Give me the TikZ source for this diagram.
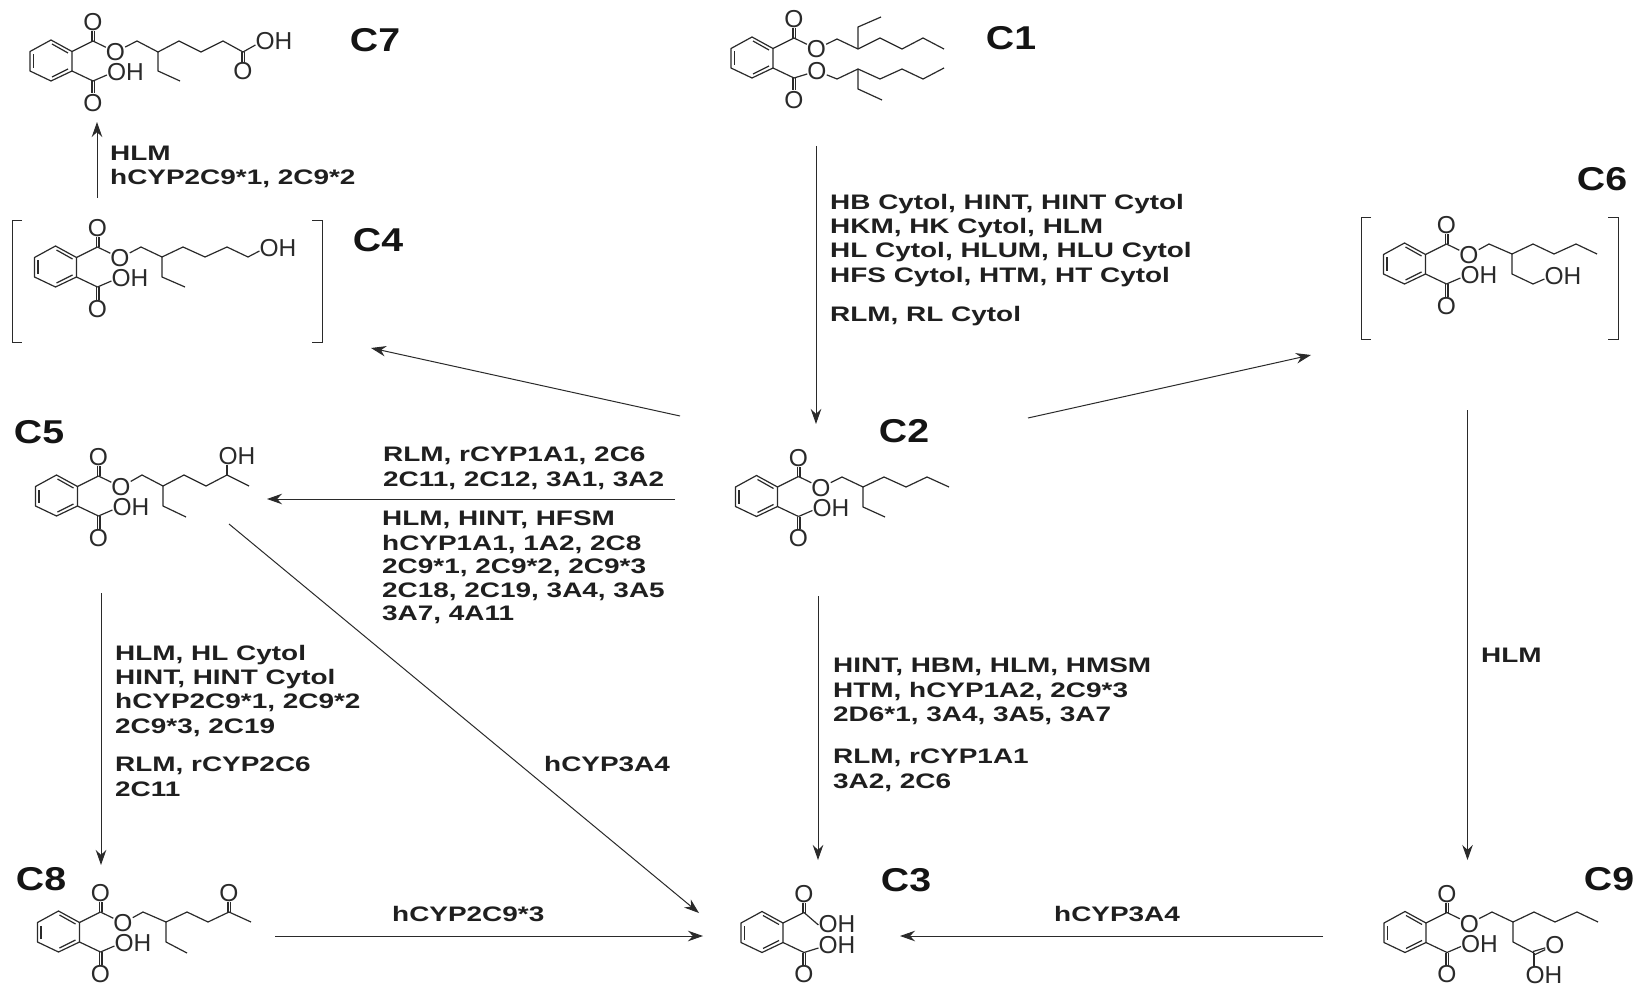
\documentclass[tikz,border=0pt]{standalone}
\usepackage{fontspec}
\usetikzlibrary{arrows.meta}
\setmainfont{Liberation Sans}
\newfontfamily\labfam[FakeStretch=1.33]{Liberation Sans}
\newfontfamily\tagfam[FakeStretch=1.19]{Liberation Sans}
\definecolor{ink}{HTML}{2A2A2A}
\tikzset{
  bond/.style={draw=ink,line width=1.2pt,line join=round},
  arrowline/.style={draw=ink,line width=1pt,-{Stealth[length=15pt,width=10.5pt]}},
  atom/.style={inner sep=0pt,text=ink,font=\fontsize{24.5}{24.5}\selectfont,text height=17.5pt,text depth=0pt},
  lab/.style={anchor=north west,inner sep=0pt,align=left,text=black!88,font={\fontsize{21}{24.2}\labfam\bfseries\selectfont}},
  tag/.style={inner sep=0pt,text=black!92,font={\fontsize{33}{33}\tagfam\bfseries\selectfont}},
  brk/.style={draw=ink,line width=0.9pt}
}
% benzene ring, centred on the local origin
\newcommand\phring{%
  \draw[bond] (0,-21) -- (21,-9.5) -- (21,10) -- (0,20) -- (-21,10) -- (-21,-9.5) -- cycle;
  \draw[bond] (1,-17) -- (17,-8);
  \draw[bond] (1,16) -- (17,8);
  \draw[bond] (-17.5,7) -- (-17.5,-6.5);
  \draw[bond] (21,-9.5) -- (42,-20);
  \draw[bond] (21,10) -- (42,20);
}
% upper and lower C=O
\newcommand\upCO{%
  \node[atom] (ou) at (42,-39) {O};
  \draw[bond] (41,-20) -- (41,-30);
  \draw[bond] (43.5,-20) -- (43.5,-30);
}
\newcommand\loCO{%
  \node[atom] (ol) at (42,41.5) {O};
  \draw[bond] (41,20) -- (41,32.5);
  \draw[bond] (43.5,20) -- (43.5,32.5);
}
% ester oxygen on the upper carbonyl
\newcommand\estO{%
  \node[atom] (oe) at (64.5,-9) {O};
  \draw[bond] (42,-20) -- (oe);
}
% acid OH on the lower carbonyl
\newcommand\loOH{%
  \node[atom] (oh) at (74.5,11) {OH};
  \draw[bond] (42,20) -- ([yshift=-3pt]oh.west);
}
\begin{document}
\begin{tikzpicture}[x=1pt,y=-1pt]
\useasboundingbox (0,0) rectangle (1640,984);
\fill[white] (0,0) rectangle (1640,984);

% C7
\begin{scope}[shift={(51,61)},name prefix=C7-]\phring\upCO\loCO\estO\loOH\end{scope}
\node[atom] (C7-oh2) at (274,41) {OH};
\node[atom] (C7-o2) at (243,71) {O};
\draw[bond] (C7-oe) -- (137,41) -- (158,52) -- (179,41) -- (201,52) -- (223,41) -- (243,52) -- ([yshift=-4pt]C7-oh2.west);
\draw[bond] (242,52) -- (242,62);
\draw[bond] (244.5,52) -- (244.5,62);
\draw[bond] (158,52) -- (158,71) -- (180,81);
\node[tag] (tagC7) at (375,40) {C7};

% C4
\begin{scope}[shift={(55.5,267)},name prefix=C4-]\phring\upCO\loCO\estO\loOH\end{scope}
\node[atom] (C4-oh2) at (278,248) {OH};
\draw[bond] (C4-oe) -- (141,247) -- (162,257) -- (183,247) -- (205,257) -- (227,247) -- (248,257) -- ([yshift=-3pt]C4-oh2.west);
\draw[bond] (162,257) -- (162,277) -- (185,287);
\draw[brk] (22,220) -- (12,220) -- (12,342) -- (22,342);
\draw[brk] (312,220) -- (322,220) -- (322,342) -- (312,342);
\node[tag] (tagC4) at (378,240) {C4};

% C1
\begin{scope}[shift={(752,58)},name prefix=C1-]\phring\upCO\loCO\estO
  \node[atom] (oe2) at (65,13) {O};
  \draw[bond] (42,20) -- (oe2);
\end{scope}
\draw[bond] (C1-oe) -- (837,39) -- (858,49) -- (880,38) -- (902,49) -- (923,38) -- (944,49);
\draw[bond] (858,49) -- (858,27) -- (881,17);
\draw[bond] (C1-oe2) -- (837,79) -- (858,69) -- (880,79) -- (902,69) -- (923,79) -- (944,68);
\draw[bond] (858,69) -- (858,89) -- (882,100);
\node[tag] (tagC1) at (1011,38) {C1};

% C6
\begin{scope}[shift={(1404.5,264)},name prefix=C6-]\phring\upCO\loCO\estO\loOH\end{scope}
\node[atom] (C6-oh2) at (1563,276) {OH};
\draw[bond] (C6-oe) -- (1489,244) -- (1512,254) -- (1533,244) -- (1554,254) -- (1576,244) -- (1597,254);
\draw[bond] (1512,254) -- (1512,274) -- (1533,284) -- ([yshift=-3pt]C6-oh2.west);
\draw[brk] (1371,217) -- (1361,217) -- (1361,339) -- (1371,339);
\draw[brk] (1608,217) -- (1618,217) -- (1618,339) -- (1608,339);
\node[tag] (tagC6) at (1602,179) {C6};

% C5
\begin{scope}[shift={(56.5,496)},name prefix=C5-]\phring\upCO\loCO\estO\loOH\end{scope}
\node[atom] (C5-oh2) at (237,456) {OH};
\draw[bond] (C5-oe) -- (142,475) -- (163,486) -- (184,475) -- (206,486) -- (227,475) -- (249,486);
\draw[bond] (227,475) -- (227,465);
\draw[bond] (163,486) -- (163,506) -- (186,517);
\node[tag] (tagC5) at (39,432) {C5};

% C2
\begin{scope}[shift={(756.5,496.5)},name prefix=C2-]\phring\upCO\loCO\estO\loOH\end{scope}
\draw[bond] (C2-oe) -- (842,477) -- (863,487) -- (884,477) -- (906,487) -- (927,477) -- (949,487);
\draw[bond] (863,487) -- (863,507) -- (885,517);
\node[tag] (tagC2) at (904,431) {C2};

% C8
\begin{scope}[shift={(58.5,932)},name prefix=C8-]\phring\upCO\loCO\estO\loOH\end{scope}
\node[atom] (C8-o2) at (229,893) {O};
\draw[bond] (C8-oe) -- (143,912) -- (166,922) -- (187,912) -- (208,922) -- (229,912) -- (251,922);
\draw[bond] (228,912) -- (228,902);
\draw[bond] (230.5,912) -- (230.5,902);
\draw[bond] (166,922) -- (166,942) -- (187,953);
\node[tag] (tagC8) at (41,879) {C8};

% C3
\begin{scope}[shift={(762,932.5)},name prefix=C3-]\phring\upCO\loCO
  \node[atom] (oh1) at (75,-8.5) {OH};
  \node[atom] (oh2) at (75,12.5) {OH};
  \draw[bond] (42,-20) -- ([yshift=-1pt]oh1.west);
  \draw[bond] (42,20) -- ([yshift=-3pt]oh2.west);
\end{scope}
\node[tag] (tagC3) at (906,880) {C3};

% C9
\begin{scope}[shift={(1405,932.5)},name prefix=C9-]\phring\upCO\loCO\estO\loOH\end{scope}
\node[atom] (C9-o2) at (1555,945) {O};
\node[atom] (C9-oh2) at (1544,975) {OH};
\draw[bond] (C9-oe) -- (1492,912) -- (1513,922) -- (1534,912) -- (1555,922) -- (1577,912) -- (1598,922);
\draw[bond] (1513,922) -- (1513,942) -- (1534,953);
\draw[bond] (1533,951.5) -- (C9-o2);
\draw[bond] (1535,954.5) -- (C9-o2);
\draw[bond] (1534,953) -- (1534,966);
\node[tag] (tagC9) at (1609,879) {C9};

% connector ends
\coordinate (c4s) at (97,198);   \coordinate (c7e) at (97,122);
\coordinate (c1s) at (816,146);  \coordinate (c2n) at (816,424);
\coordinate (c2a) at (680,416);  \coordinate (c4e) at (371,348);
\coordinate (c2b) at (1028,418); \coordinate (c6e) at (1311,355);
\coordinate (c2c) at (675,499);  \coordinate (c5e) at (267,499);
\coordinate (c5a) at (229,524);  \coordinate (c3a) at (699,913);
\coordinate (c2d) at (818,596);  \coordinate (c3b) at (818,860);
\coordinate (c5b) at (101,593);  \coordinate (c8e) at (101,865);
\coordinate (c6s) at (1467.5,410); \coordinate (c9e) at (1467.5,860);
\coordinate (c8s) at (275,936);  \coordinate (c3c) at (703,936);
\coordinate (c9s) at (1323,936); \coordinate (c3d) at (900,936);

\draw[arrowline] (c4s) -- (c7e);
\draw[arrowline] (c1s) -- (c2n);
\draw[arrowline] (c2a) -- (c4e);
\draw[arrowline] (c2b) -- (c6e);
\draw[arrowline] (c2c) -- (c5e);
\draw[arrowline] (c5a) -- (c3a);
\draw[arrowline] (c2d) -- (c3b);
\draw[arrowline] (c5b) -- (c8e);
\draw[arrowline] (c6s) -- (c9e);
\draw[arrowline] (c8s) -- (c3c);
\draw[arrowline] (c9s) -- (c3d);

% labels
\node[lab] (l1) at (110,146) {HLM\\hCYP2C9*1, 2C9*2};
\node[lab] (l2) at (830,194) {HB Cytol, HINT, HINT Cytol\\HKM, HK Cytol, HLM\\HL Cytol, HLUM, HLU Cytol\\HFS Cytol, HTM, HT Cytol};
\node[lab] (l3) at (830,306) {RLM, RL Cytol};
\node[lab] (l4) at (383,447) {RLM, rCYP1A1, 2C6\\2C11, 2C12, 3A1, 3A2};
\node[lab] (l5) at (382,511) {HLM, HINT, HFSM\\hCYP1A1, 1A2, 2C8\\[-0.7pt]2C9*1, 2C9*2, 2C9*3\\[-0.7pt]2C18, 2C19, 3A4, 3A5\\[-0.7pt]3A7, 4A11};
\node[lab] (l6) at (115,645) {HLM, HL Cytol\\HINT, HINT Cytol\\hCYP2C9*1, 2C9*2\\2C9*3, 2C19};
\node[lab] (l7) at (115,757) {RLM, rCYP2C6\\2C11};
\node[lab] (l8) at (833,658) {HINT, HBM, HLM, HMSM\\HTM, hCYP1A2, 2C9*3\\2D6*1, 3A4, 3A5, 3A7};
\node[lab] (l9) at (833,749) {RLM, rCYP1A1\\3A2, 2C6};
\node[lab] (l10) at (1481,648) {HLM};
\node[lab] (l11) at (544,756) {hCYP3A4};
\node[lab] (l12) at (392,906) {hCYP2C9*3};
\node[lab] (l13) at (1054,906) {hCYP3A4};
\end{tikzpicture}
\end{document}
